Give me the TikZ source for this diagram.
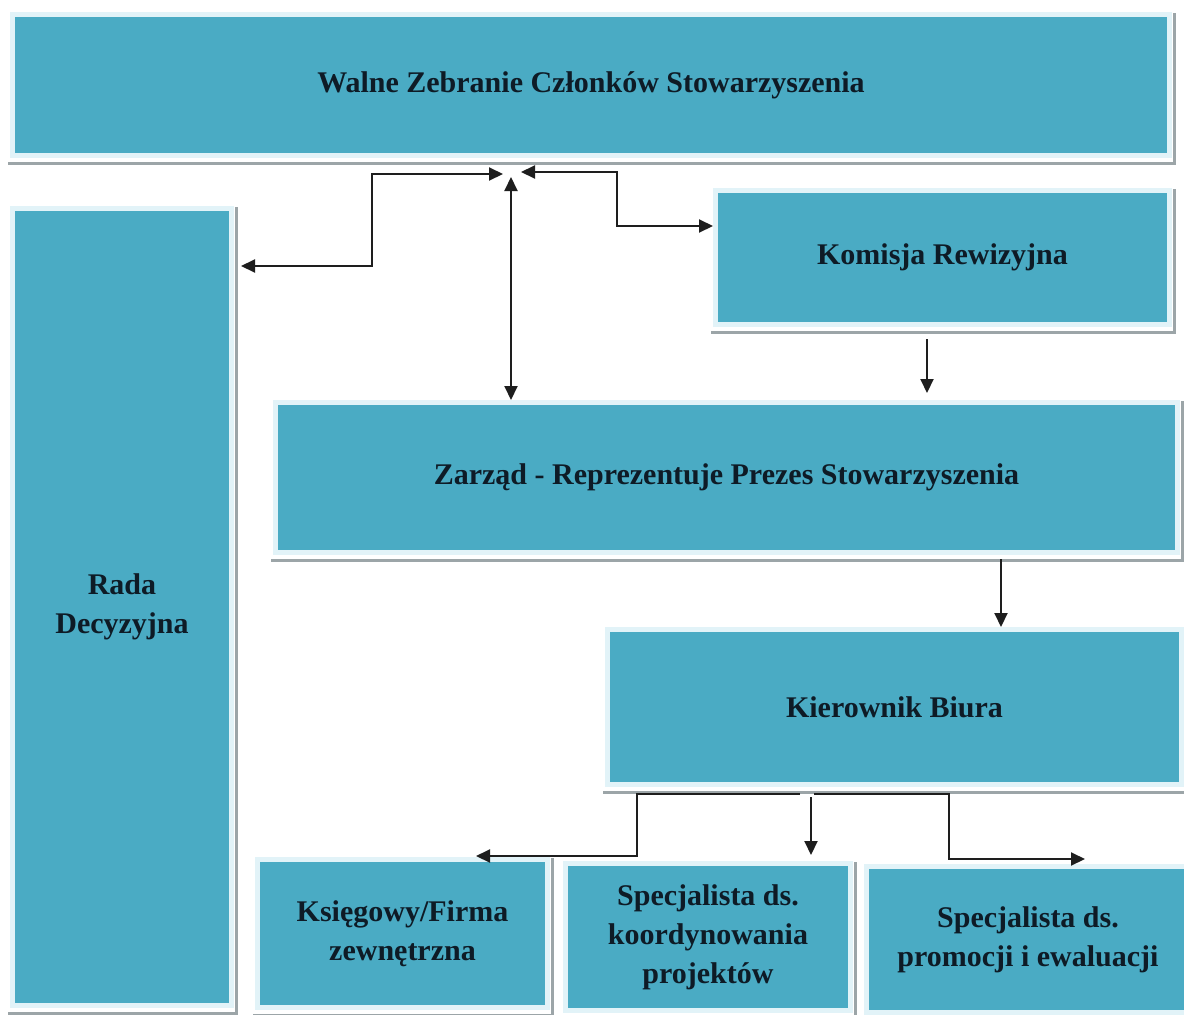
\documentclass[tikz,border=0pt]{standalone}
\usepackage{fontspec}
\setmainfont{Liberation Serif}
\usetikzlibrary{arrows.meta}
\definecolor{boxfill}{HTML}{4AABC4}
\definecolor{boxrim}{HTML}{E2F3F8}
\definecolor{boxshade}{HTML}{9CA5A8}
\definecolor{ink}{HTML}{0E1B26}
\definecolor{wire}{HTML}{1E1E1E}
\begin{document}
\begin{tikzpicture}[x=1pt,y=-1pt,
  orgbox/.style={rectangle, fill=boxfill, draw=boxrim, line width=5pt, inner sep=0pt,
    align=center, text=ink, font=\bfseries\fontsize{30}{39}\selectfont},
  shade/.style={draw=boxshade, line width=2.6pt},
  wireline/.style={draw=wire, line width=2pt},
  arr/.style={wireline, -{Triangle[length=14pt,width=13pt]}},
  dbl/.style={wireline, {Triangle[length=14pt,width=13pt]}-{Triangle[length=14pt,width=13pt]}}]
\useasboundingbox[fill=white] (0,0) rectangle (1184,1015);

\node[orgbox, minimum width=1157pt, minimum height=141pt] (walne) at (591,85) {Walne Zebranie Członków Stowarzyszenia};
\node[orgbox, minimum width=219pt, minimum height=797pt] (rada) at (122,607) {Rada\\Decyzyjna};
\node[orgbox, minimum width=454pt, minimum height=134pt] (komisja) at (942.5,257.5) {Komisja Rewizyjna};
\node[orgbox, minimum width=902pt, minimum height=150pt] (zarzad) at (726.5,477.5) {Zarząd - Reprezentuje Prezes Stowarzyszenia};
\node[orgbox, minimum width=574pt, minimum height=155pt] (kier) at (894.5,707) {Kierownik Biura};
\node[orgbox, minimum width=290pt, minimum height=148pt] (ksieg) at (402.5,933.5) {Księgowy/Firma\\zewnętrzna};
\node[orgbox, minimum width=285pt, minimum height=147pt] (koord) at (708,937) {Specjalista ds.\\koordynowania\\projektów};
\node[orgbox, minimum width=323pt, minimum height=146pt] (promo) at (1028,939.5) {Specjalista ds.\\promocji i ewaluacji};

\foreach \n in {walne,rada,komisja,zarzad,kier,ksieg,koord,promo}{
  \draw[shade] ([xshift=2.5pt,yshift=-1pt]\n.north east) -- ([xshift=2.5pt,yshift=-5.5pt]\n.south east)
    -- ([xshift=-2.5pt,yshift=-5.5pt]\n.south west);
}

% free ends near the general assembly and the lower boxes
\coordinate (hubL) at (503,174);
\coordinate (hubC) at (511,177);
\coordinate (hubR) at (521,172);
\coordinate (radaIn) at (241,266);
\coordinate (kSplitL) at (800,794);
\coordinate (kSplitR) at (814,794);
\coordinate (kDown) at (811,797);
\coordinate (ksIn) at (476,856);
\coordinate (koIn) at (811,855);
\coordinate (prIn) at (1085,859);

\draw[dbl] (radaIn) -| (372,174) -- (hubL);
\draw[dbl] (hubR) -| (617,226) -- (komisja.west |- 0,226);
\draw[dbl] (hubC) -- (zarzad.north -| 511,0);
\draw[arr, shorten <=12pt, shorten >=7pt] (komisja.south -| 927,0) -- (zarzad.north -| 927,0);
\draw[arr, shorten <=4pt] (zarzad.south -| 1001,0) -- (kier.north -| 1001,0);
\draw[arr] (kSplitL) -| (637,856) -- (ksIn);
\draw[arr] (kDown) -- (koIn);
\draw[arr] (kSplitR) -| (949,859) -- (prIn);
\end{tikzpicture}
\end{document}
